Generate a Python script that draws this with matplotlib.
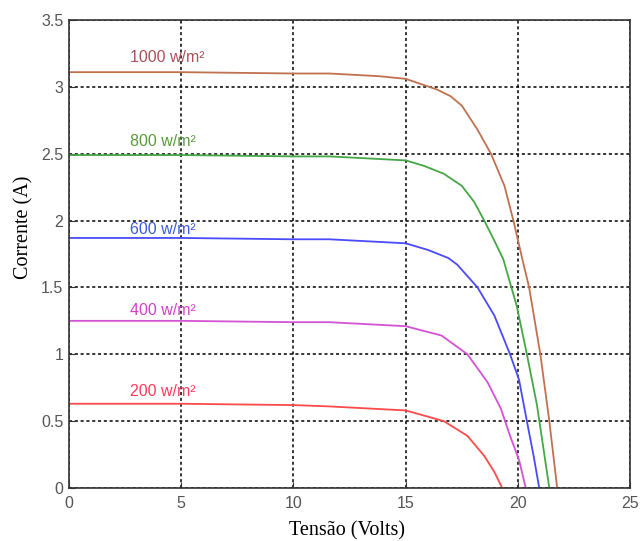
import matplotlib.pyplot as plt

# valeurs (tension en V, courant en A)
v_1000 = [0, 5, 10, 11.6, 13.8, 15.0, 16.4, 17.0, 17.5, 18.2, 18.8, 19.4, 19.8, 20.2, 20.5, 21.0, 21.4, 21.75]
i_1000 = [3.11, 3.11, 3.10, 3.10, 3.08, 3.06, 2.98, 2.93, 2.86, 2.68, 2.50, 2.26, 2.00, 1.71, 1.50, 1.00, 0.50, 0]

v_800 = [0, 5, 10, 11.6, 15.0, 15.8, 16.7, 17.5, 18.05, 18.5, 18.95, 19.35, 19.95, 20.4, 20.85, 21.4]
i_800 = [2.49, 2.49, 2.48, 2.48, 2.45, 2.41, 2.35, 2.26, 2.14, 2.00, 1.85, 1.71, 1.36, 1.00, 0.62, 0]

v_600 = [0, 5, 10, 11.6, 15.0, 16.0, 16.9, 17.3, 18.2, 18.95, 19.65, 20.05, 20.4, 20.7, 20.95]
i_600 = [1.87, 1.87, 1.86, 1.86, 1.83, 1.78, 1.72, 1.67, 1.50, 1.29, 1.00, 0.81, 0.50, 0.24, 0]

v_400 = [0, 5, 10, 11.6, 15.0, 16.6, 17.75, 18.65, 19.25, 19.65, 20.05, 20.35]
i_400 = [1.25, 1.25, 1.24, 1.24, 1.21, 1.14, 1.00, 0.79, 0.59, 0.39, 0.21, 0]

v_200 = [0, 5, 10, 11.6, 15.0, 16.7, 17.75, 18.5, 18.95, 19.3]
i_200 = [0.63, 0.63, 0.62, 0.61, 0.58, 0.50, 0.39, 0.24, 0.12, 0]

rotulos = ["1000 w/m²", "800 w/m²", "600 w/m²", "400 w/m²", "200 w/m²"]
pos_rotulos = [3.22, 2.59, 1.93, 1.33, 0.72]
cores = ["#c0714f", "#45a745", "#4a4aff", "#d452d4", "#ff4a4a"]
cores_txt = ["#a8505a", "#5a9a3a", "#3a5ae0", "#d040c8", "#ff3a5a"]

curvas = [(v_1000, i_1000), (v_800, i_800), (v_600, i_600), (v_400, i_400), (v_200, i_200)]

fig = plt.figure(figsize=(6.42, 5.41), dpi=100)
ax = fig.add_axes([0.1075, 0.098, 0.874, 0.865])

for (v, i), c in zip(curvas, cores):
    ax.plot(v, i, color=c, linewidth=1.3)

for txt, y, c in zip(rotulos, pos_rotulos, cores_txt):
    ax.text(2.7, y, txt, color=c, fontsize=11.5, family="Liberation Sans", va="center")

ax.set_xlim(0, 25)
ax.set_ylim(0, 3.5)
ax.set_xticks([0, 5, 10, 15, 20, 25])
ax.set_yticks([0, 0.5, 1, 1.5, 2, 2.5, 3, 3.5])
ax.set_yticklabels(["0", "0.5", "1", "1.5", "2", "2.5", "3", "3.5"])
ax.grid(True, color="black", linestyle=(0, (2, 1.8)), linewidth=1.1)
ax.tick_params(direction="in", colors="#333333", labelcolor="#555555", labelsize=11.5, length=4)
ax.tick_params(axis="x", pad=6)
ax.tick_params(axis="y", pad=4)
for lbl in ax.get_xticklabels() + ax.get_yticklabels():
    lbl.set_family("Liberation Sans")
for s in ax.spines.values():
    s.set_color("#333333")
    s.set_linewidth(1.2)

ax.set_xlabel("Tensão (Volts)", family="Liberation Serif", fontsize=14.5)
ax.set_ylabel("Corrente (A)", family="Liberation Serif", fontsize=14.5)
ax.xaxis.set_label_coords(0.4955, -0.072)
ax.yaxis.set_label_coords(-0.064, 0.556)

fig.savefig("out.png", dpi=100)
